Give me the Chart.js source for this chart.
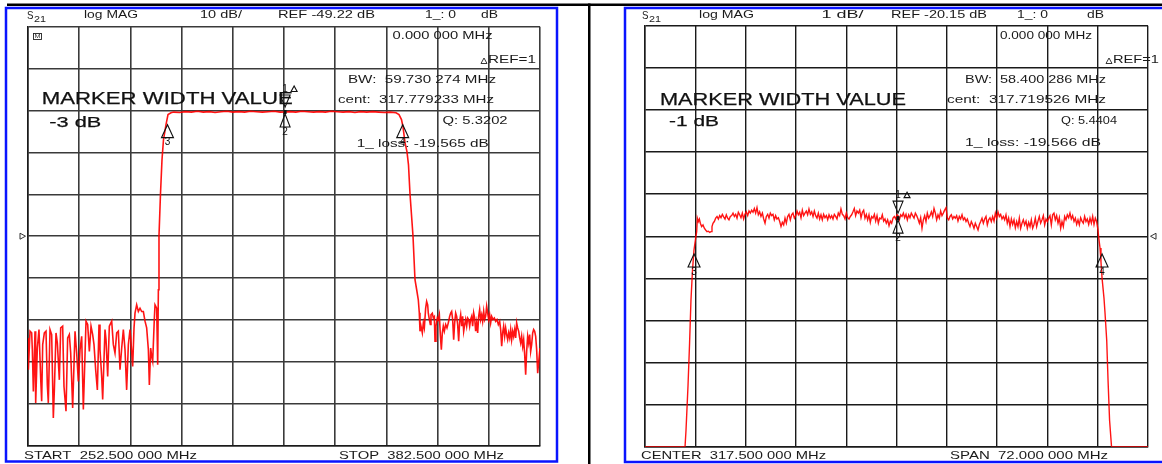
<!DOCTYPE html>
<html>
<head>
<meta charset="utf-8">
<script src="https://cdn.jsdelivr.net/npm/chart.js@4.4.1/dist/chart.umd.min.js"></script>
<style>
  body { margin: 0; background: #fff; }
  #wrap { position: relative; width: 1162px; height: 464px; }
  canvas { position: absolute; left: 0; top: 0; }
</style>
</head>
<body>
<div id="wrap">
  <canvas id="wideChart" width="1162" height="464"></canvas>
  <canvas id="narrowChart" width="1162" height="464"></canvas>
</div>
<script>
// ---- wide sweep: START 252.5 / STOP 382.5 MHz, 10 dB/div, REF -49.22 dB
const wideGridFreq = [252.5, 265.5, 278.5, 291.5, 304.5, 317.5, 330.5, 343.5, 356.5, 369.5, 382.5];
const wideGridLevel = [0.78, -9.22, -19.22, -29.22, -39.22, -49.22, -59.22, -69.22, -79.22, -89.22, -99.22];
const wideRefLevel = -49.22;

const wideLowFreq = [252.5,252.6,253.01,253.43,253.6,253.86,254.28,254.45,254.87,255.29,
  255.72,255.97,256.23,256.65,257.07,257.41,257.66,258.09,258.51,258.93,
  259.19,259.61,259.95,260.46,260.8,261.3,261.64,262.15,262.57,262.99,
  263.34,263.59,263.84,264.44,264.86,265.28,265.71,266.13,266.55,266.81,
  267.23,267.65,268.08,268.5,268.92,269.26,269.68,270.11,270.53,270.78,
  271.21,271.46,272.05,272.31,272.73,273.15,273.75,274.17,274.59,275.02,
  275.44,275.86,276.29,276.71,277.13,277.55,277.98,278.4,278.82,279.08,
  279.42,279.67,280.09,280.52,280.94,281.36,281.79,282.21,282.63,283.06,
  283.31,283.65,283.9,284.16,284.58,284.75,285.17,285.43,285.6];
const wideLowLevel = [-73.5,-81.1,-71.9,-72.3,-76.3,-86.3,-71.9,-89.0,-75.9,-71.5,
  -83.1,-88.6,-75.1,-72.3,-71.9,-84.7,-89.0,-71.5,-72.7,-92.6,
  -85.9,-72.3,-74.7,-83.5,-71.1,-70.7,-85.1,-91.0,-73.5,-72.7,
  -77.1,-83.5,-90.2,-71.9,-77.1,-83.9,-76.3,-73.1,-90.6,-82.7,
  -69.5,-70.3,-76.7,-70.7,-72.7,-75.1,-81.1,-85.9,-70.3,-76.3,
  -82.7,-88.2,-71.5,-73.9,-82.7,-70.7,-69.5,-75.1,-77.1,-72.3,
  -71.9,-81.1,-75.9,-71.5,-76.3,-85.9,-75.1,-71.5,-76.7,-80.3,
  -71.1,-67.6,-65.6,-67.2,-66.4,-67.2,-67.2,-69.5,-71.1,-76.3,
  -84.7,-75.9,-77.9,-79.1,-68.8,-65.6,-66.4,-79.9,-62.0];

const wideBandFreq = [285.76,286.14,286.52,286.9,287.54,288.05,288.81,
  289.5,291.0,292.5,294.0,295.5,297.0,298.5,300.0,301.5,303.0,
  304.5,306.0,307.5,309.0,310.5,312.0,313.5,315.0,316.5,317.78,
  319.0,320.5,322.0,323.5,325.0,326.5,328.0,329.5,331.0,332.5,
  334.0,335.5,337.0,338.5,340.0,341.5,343.0,344.5,
  345.94,346.7,347.33,347.71,348.22,348.73,349.11,349.49,350.25,350.76,351.19,351.6,351.85];
const wideBandLevel = [-49.1,-39.1,-31.0,-26.2,-22.6,-20.2,-19.75,
  -19.6,-19.7,-19.5,-19.6,-19.4,-19.6,-19.5,-19.7,-19.5,-19.4,
  -19.6,-19.5,-19.6,-19.4,-19.5,-19.6,-19.5,-19.4,-19.6,-19.57,
  -19.5,-19.6,-19.4,-19.5,-19.6,-19.5,-19.6,-19.4,-19.5,-19.6,
  -19.5,-19.7,-19.5,-19.6,-19.5,-19.6,-19.7,-19.6,
  -19.75,-20.2,-21.4,-23.1,-26.9,-29.1,-32.2,-39.1,-49.1,-59.6,-62.0,-64.4,-67.5];

const wideHighFreq = [352.03,352.28,352.62,352.88,353.13,353.47,353.72,353.98,354.14,354.4,
  354.65,354.82,355.16,355.41,355.67,355.84,356.09,356.43,356.68,356.94,
  357.19,357.45,357.7,357.95,358.21,358.55,358.88,359.22,359.56,359.82,
  360.07,360.32,360.58,360.83,361.09,361.34,361.59,361.85,362.1,362.36,
  362.61,362.86,363.12,363.37,363.62,363.88,364.13,364.39,364.64,364.89,
  365.15,365.4,365.66,365.91,366.16,366.42,366.67,366.93,367.18,367.43,
  367.69,367.94,368.2,368.45,368.7,368.96,369.21,369.46,369.72,369.97,
  370.23,370.56,370.9,371.24,371.58,371.92,372.26,372.51,372.77,373.02,
  373.27,373.53,373.78,374.04,374.29,374.54,374.8,375.05,375.3,375.56,
  375.81,376.07,376.32,376.57,376.83,377.08,377.34,377.59,377.84,378.1,
  378.35,378.61,378.86,379.11,379.37,379.62,379.88,380.13,380.38,380.64,
  380.89,381.15,381.4,381.65,381.91,382.5];
const wideHighLevel = [-71.9,-70.7,-72.3,-69.9,-71.1,-66.4,-64.8,-65.6,-67.6,-69.1,
  -70.3,-68.0,-67.6,-68.7,-68.4,-74.3,-70.7,-68.7,-69.1,-67.95,
  -72.7,-76.3,-72.3,-70.7,-71.9,-70.3,-71.1,-69.9,-68.35,-67.55,
  -67.15,-69.1,-73.9,-69.9,-67.55,-68.35,-70.3,-74.3,-69.55,-67.95,
  -70.7,-68.35,-71.9,-70.3,-69.1,-70.7,-68.75,-69.1,-70.7,-69.1,
  -68.35,-70.7,-67.55,-68.75,-71.9,-69.9,-72.3,-68.35,-66.75,-69.1,
  -67.95,-69.55,-67.15,-69.1,-68.35,-65.95,-67.55,-69.1,-67.95,-69.9,
  -68.35,-69.1,-68.75,-69.55,-69.1,-70.3,-69.55,-71.5,-75.5,-72.3,
  -70.7,-73.1,-71.1,-72.7,-73.9,-72.3,-73.5,-71.5,-73.9,-71.9,
  -73.1,-71.5,-73.5,-69.9,-71.1,-71.9,-73.5,-74.7,-73.1,-75.5,
  -73.9,-77.5,-82.3,-76.7,-73.1,-74.7,-72.7,-76.7,-75.1,-72.3,
  -71.5,-71.9,-73.1,-76.3,-81.9,-75.9];

// markers 1..4 (1 and 2 sit on the same point)
const wideMarkerFreq = [317.78, 317.78, 287.91, 347.64];
const wideMarkerLevel = [-19.57, -19.57, -22.6, -22.6];

// ---- narrow sweep: CENTER 317.5 / SPAN 72 MHz, 1 dB/div, REF -20.15 dB
const narrowGridFreq = [281.5, 288.7, 295.9, 303.1, 310.3, 317.5, 324.7, 331.9, 339.1, 346.3, 353.5];
const narrowGridLevel = [-15.15, -16.15, -17.15, -18.15, -19.15, -20.15, -21.15, -22.15, -23.15, -24.15, -25.15];
const narrowRefLevel = -20.15;

const narrowLowFreq = [281.5,287.23,287.37,287.66,287.88,288.08,288.3,288.51,288.8,288.9];
const narrowLowLevel = [-25.15,-25.15,-24.76,-23.69,-22.69,-21.67,-20.95,-20.48,-20.14,-20.04];

const narrowBandAFreq = [288.99,289.13,289.28,289.42,289.61,289.80,289.99,290.18,290.38,290.57,
  290.76,290.95,291.09,291.23,291.42,291.62,291.81,292.00,292.19,292.38,
  292.57,292.76,292.95,293.14,293.33,293.52,293.71,293.91,294.10,294.29,
  294.48,294.67,294.86,295.05,295.24,295.43,295.62,295.81,296.00,296.20,
  296.39,296.58,296.77,296.96,297.15,297.34,297.53,297.72,297.91,298.10,
  298.30,298.49,298.68,298.87,299.06,299.25,299.44,299.63,299.82,300.01,
  300.20,300.39,300.59,300.78,300.97,301.16,301.35,301.54,301.73,301.92,
  302.11,302.30,302.49,302.68,302.88,303.07,303.26,303.45,303.64,303.83,
  304.02,304.21,304.40,304.59,304.78,304.97,305.17,305.36,305.55,305.74,
  305.93,306.12,306.31,306.50,306.69,306.88,307.07,307.26,307.46,307.65,
  307.84,308.03,308.22,308.41,308.60,308.79,308.98,309.17,309.36,309.55,
  309.75,309.94,310.13,310.32,310.51,310.70,310.89,311.08,311.27,311.46,
  311.65,311.84,312.04,312.23,312.42,312.61,312.80,312.99,313.18,313.37,
  313.56,313.75,313.94,314.13,314.33,314.52,314.71,314.90,315.09,315.28,
  315.47,315.66,315.85,316.04,316.23,316.43,316.62,316.81,317.00,317.19,
  317.38,317.57];
const narrowBandALevel = [-19.72,-19.80,-19.74,-19.84,-19.92,-19.88,-19.96,-20.00,-20.04,-20.03,
  -20.06,-20.04,-19.92,-19.84,-19.80,-19.72,-19.68,-19.74,-19.66,-19.71,
  -19.63,-19.69,-19.74,-19.64,-19.72,-19.76,-19.68,-19.66,-19.60,-19.68,
  -19.63,-19.72,-19.58,-19.64,-19.71,-19.60,-19.74,-19.63,-19.57,-19.66,
  -19.55,-19.60,-19.53,-19.58,-19.49,-19.60,-19.47,-19.64,-19.57,-19.68,
  -19.60,-19.74,-19.84,-19.68,-19.63,-19.72,-19.60,-19.66,-19.63,-19.76,
  -19.66,-19.74,-19.71,-19.80,-19.92,-19.82,-19.88,-19.72,-19.84,-19.68,
  -19.63,-19.76,-19.64,-19.60,-19.72,-19.66,-19.55,-19.64,-19.58,-19.71,
  -19.53,-19.66,-19.60,-19.55,-19.64,-19.50,-19.63,-19.57,-19.68,-19.55,
  -19.66,-19.72,-19.60,-19.74,-19.64,-19.76,-19.63,-19.71,-19.66,-19.76,
  -19.64,-19.72,-19.66,-19.74,-19.63,-19.68,-19.74,-19.60,-19.66,-19.50,
  -19.63,-19.66,-19.74,-19.60,-19.71,-19.74,-19.68,-19.64,-19.57,-19.49,
  -19.66,-19.55,-19.60,-19.53,-19.71,-19.58,-19.53,-19.72,-19.63,-19.76,
  -19.64,-19.82,-19.68,-19.72,-19.63,-19.79,-19.66,-19.84,-19.72,-19.74,
  -19.64,-19.79,-19.74,-19.84,-19.76,-19.90,-19.79,-19.84,-19.72,-19.68,
  -19.74,-19.64];

const narrowBandBFreq = [317.72,317.91,318.10,318.29,318.48,318.67,318.86,319.05,319.24,319.43,
  319.62,319.81,320.01,320.20,320.39,320.58,320.77,320.96,321.15,321.34,
  321.53,321.72,321.91,322.10,322.30,322.49,322.68,322.87,323.06,323.25,
  323.44,323.63,323.82,324.01,324.20,324.39,324.59,324.78,324.97,325.16,
  325.35,325.54,325.73,325.92,326.11,326.30,326.49,326.68,326.88,327.07,
  327.26,327.45,327.64,327.83,328.02,328.21,328.40,328.59,328.78,328.97,
  329.17,329.36,329.55,329.74,329.93,330.12,330.31,330.50,330.69,330.88,
  331.07,331.26,331.46,331.65,331.84,332.03,332.22,332.41,332.60,332.79,
  332.98,333.17,333.36,333.55,333.75,333.94,334.13,334.32,334.51,334.70,
  334.89,335.08,335.27,335.46,335.65,335.84,336.04,336.23,336.42,336.61,
  336.80,336.99,337.18,337.37,337.56,337.75,337.94,338.13,338.33,338.52,
  338.71,338.90,339.09,339.28,339.47,339.66,339.85,340.04,340.23,340.42,
  340.62,340.81,341.00,341.19,341.38,341.57,341.76,341.95,342.14,342.33,
  342.52,342.71,342.91,343.10,343.29,343.48,343.67,343.86,344.05,344.24,
  344.43,344.62,344.81,345.01,345.20,345.39,345.58,345.77,345.96,346.15,
  346.34];
const narrowBandBLevel = [-19.66,-19.76,-19.64,-19.68,-19.60,-19.71,-19.63,-19.76,-19.64,-19.71,
  -19.60,-19.66,-19.72,-19.60,-19.66,-19.74,-19.84,-19.71,-19.96,-19.76,
  -19.66,-19.80,-19.60,-19.72,-19.66,-19.57,-19.68,-19.49,-19.60,-19.76,
  -19.64,-19.72,-19.55,-19.66,-19.60,-19.53,-19.47,-19.72,-19.76,-19.68,
  -19.64,-19.74,-19.68,-19.72,-19.66,-19.79,-19.68,-19.74,-19.64,-19.76,
  -19.71,-19.80,-19.74,-19.84,-19.92,-19.80,-19.87,-19.96,-19.84,-19.92,
  -20.00,-19.87,-19.80,-19.72,-19.84,-19.74,-19.68,-19.88,-19.76,-19.71,
  -19.80,-19.68,-19.79,-19.60,-19.72,-19.57,-19.68,-19.63,-19.74,-19.68,
  -19.76,-19.64,-19.84,-19.72,-19.92,-19.74,-19.87,-19.76,-19.95,-19.80,
  -19.92,-19.72,-19.96,-19.84,-19.76,-19.88,-19.79,-19.96,-19.82,-19.92,
  -19.76,-19.96,-19.87,-19.72,-19.92,-19.79,-19.68,-19.84,-19.76,-19.66,
  -19.88,-19.74,-19.80,-19.72,-19.66,-19.88,-19.64,-19.60,-19.76,-19.66,
  -19.84,-19.71,-19.96,-19.80,-19.92,-19.68,-19.76,-19.64,-19.71,-19.60,
  -19.74,-19.66,-19.80,-19.72,-19.87,-19.76,-19.88,-19.71,-19.79,-19.84,
  -19.68,-19.80,-19.74,-19.87,-19.72,-19.84,-19.68,-19.87,-19.72,-19.80,
  -20.00];

const narrowHighFreq = [346.42,346.63,346.77,346.92,347.2,347.35,347.59,347.78,348.0,348.28,353.5];
const narrowHighLevel = [-20.14,-20.43,-20.76,-21.14,-21.62,-21.98,-22.62,-23.57,-24.52,-25.15,-25.15];

const narrowMarkerFreq = [317.72, 317.72, 288.52, 346.92];
const narrowMarkerLevel = [-19.72, -19.72, -20.57, -20.57];

// ---- screen texts
const wideHeader = ["log MAG", "10 dB/", "REF -49.22 dB", "1_: 0", "dB"];
const wideReadout = ["0.000 000 MHz", "REF=1", "BW:  59.730 274 MHz", "cent:  317.779233 MHz", "Q: 5.3202", "1_ loss: -19.565 dB"];
const wideFooter = ["START  252.500 000 MHz", "STOP  382.500 000 MHz"];
const narrowHeader = ["log MAG", "1 dB/", "REF -20.15 dB", "1_: 0", "dB"];
const narrowReadout = ["0.000 000 MHz", "REF=1", "BW:  58.400 286 MHz", "cent:  317.719526 MHz", "Q: 5.4404", "1_ loss: -19.566 dB"];
const narrowFooter = ["CENTER  317.500 000 MHz", "SPAN  72.000 000 MHz"];
const bigTitle = "MARKER WIDTH VALUE";
const wideWidthLabel = "-3 dB";
const narrowWidthLabel = "-1 dB";

const FONT = '"Liberation Sans", Arial, sans-serif';

function zip(freqs, levels) {
  const n = Math.min(freqs.length, levels.length);
  if (freqs.length !== levels.length) console.warn("length mismatch", freqs.length, levels.length);
  const out = [];
  for (let i = 0; i < n; i++) out.push({ x: freqs[i], y: levels[i] });
  return out;
}

// text squeezed/stretched to the width it has on the instrument screen
function screenText(ctx, str, x, y, size, width, color, heavy) {
  ctx.save();
  ctx.font = size + "px " + FONT;
  ctx.fillStyle = color || "#1a1a1a";
  ctx.textBaseline = "middle";
  const w = ctx.measureText(str).width;
  ctx.translate(x, y);
  ctx.scale(width / w, 1);
  ctx.fillText(str, 0, 0);
  if (heavy) {
    ctx.strokeStyle = ctx.fillStyle;
    ctx.lineWidth = heavy;
    ctx.strokeText(str, 0, 0);
  }
  ctx.restore();
}

function triangle(ctx, px, apexY, baseY, hw) {
  ctx.beginPath();
  ctx.moveTo(px, apexY);
  ctx.lineTo(px - hw, baseY);
  ctx.lineTo(px + hw, baseY);
  ctx.closePath();
  ctx.stroke();
}

function smallDelta(ctx, x, y) {
  ctx.beginPath();
  ctx.moveTo(x, y - 3);
  ctx.lineTo(x - 3, y + 2.5);
  ctx.lineTo(x + 3, y + 2.5);
  ctx.closePath();
  ctx.stroke();
}

function drawMarkers(chart, freqs, levels) {
  const { ctx } = chart;
  const xs = chart.scales.x, ys = chart.scales.y;
  ctx.save();
  ctx.strokeStyle = "#111";
  ctx.fillStyle = "#111";
  ctx.lineWidth = 1.1;
  ctx.font = "10px " + FONT;
  ctx.textAlign = "center";
  ctx.textBaseline = "middle";
  freqs.forEach((f, i) => {
    const px = xs.getPixelForValue(f);
    const py = ys.getPixelForValue(levels[i]);
    if (i === 0) {
      triangle(ctx, px, py - 5, py - 17, 5);
      ctx.fillRect(px - 1.5, py - 2, 3, 4);
      ctx.fillText("1", px, py - 23);
      smallDelta(ctx, px + 9, py - 23);
    } else if (i === 1) {
      triangle(ctx, px, py + 2, py + 15, 5);
      ctx.fillText("2", px, py + 20);
    } else {
      triangle(ctx, px, py, py + 13, 6);
      ctx.fillText(String(i + 1), px, py + 18);
    }
  });
  ctx.restore();
}

function refArrow(chart, level, side) {
  const { ctx, chartArea } = chart;
  const py = chart.scales.y.getPixelForValue(level);
  ctx.save();
  ctx.strokeStyle = "#333";
  ctx.lineWidth = 1;
  ctx.beginPath();
  if (side === "left") {
    const x0 = chartArea.left - 8;
    ctx.moveTo(x0, py - 3);
    ctx.lineTo(x0, py + 3);
    ctx.lineTo(x0 + 5.5, py);
  } else {
    const x0 = chartArea.right + 8;
    ctx.moveTo(x0, py - 3);
    ctx.lineTo(x0, py + 3);
    ctx.lineTo(x0 - 5.5, py);
  }
  ctx.closePath();
  ctx.stroke();
  ctx.restore();
}

function scaleOptions(gridFreq, gridLevel, gridColor, gridWidth) {
  const common = {
    type: "linear",
    ticks: { display: false },
    grid: { color: gridColor, lineWidth: gridWidth, drawTicks: false },
    border: { display: true, color: "#1a1a1a", width: 1.5 }
  };
  return {
    x: Object.assign({}, common, {
      min: gridFreq[0], max: gridFreq[gridFreq.length - 1],
      afterBuildTicks: (s) => { s.ticks = gridFreq.map((v) => ({ value: v })); }
    }),
    y: Object.assign({}, common, {
      min: gridLevel[gridLevel.length - 1], max: gridLevel[0],
      afterBuildTicks: (s) => { s.ticks = gridLevel.map((v) => ({ value: v })); }
    })
  };
}

// frames, screen texts and markers of the left (wide) screen
const wideScreen = {
  id: "wideScreen",
  beforeDraw(chart) {
    const ctx = chart.ctx;
    ctx.save();
    ctx.fillStyle = "#000";
    ctx.fillRect(7, 3.5, 1155, 2.5);
    ctx.fillRect(588, 3.5, 2.5, 461);
    ctx.strokeStyle = "#0a14ff";
    ctx.lineWidth = 2.5;
    ctx.strokeRect(6, 8, 551, 453.5);
    ctx.strokeRect(625, 8, 560, 454);
    ctx.restore();
  },
  afterDatasetsDraw(chart) {
    const ctx = chart.ctx;
    screenText(ctx, "S", 27, 16, 10.5, 6.5);
    screenText(ctx, "21", 34, 19, 9.5, 12);
    const hx = [[84, 54], [200, 42], [278, 97], [425, 31], [481, 17]];
    wideHeader.forEach((t, i) => screenText(ctx, t, hx[i][0], 15.5, 10.5, hx[i][1]));
    const rd = [[392.6, 36, 100], [488, 60.5, 48], [348, 80.5, 148], [338, 100.5, 156], [442.6, 121, 65], [356.7, 144, 132]];
    wideReadout.forEach((t, i) => screenText(ctx, t, rd[i][0], rd[i][1], 10.5, rd[i][2]));
    ctx.save();
    ctx.strokeStyle = "#222";
    ctx.lineWidth = 0.9;
    smallDelta(ctx, 484, 61);
    ctx.strokeRect(33.5, 33.5, 8, 6);
    ctx.restore();
    screenText(ctx, "M", 34.5, 36.8, 6, 6, "#333");
    screenText(ctx, bigTitle, 41.7, 99.5, 16.5, 251, "#111", 0.25);
    screenText(ctx, wideWidthLabel, 49.3, 122.5, 15.5, 52, "#111", 0.25);
    screenText(ctx, wideFooter[0], 24, 456, 10.5, 173);
    screenText(ctx, wideFooter[1], 339, 456, 10.5, 165);
    drawMarkers(chart, wideMarkerFreq, wideMarkerLevel);
    refArrow(chart, wideRefLevel, "left");
  }
};

const narrowScreen = {
  id: "narrowScreen",
  afterDatasetsDraw(chart) {
    const ctx = chart.ctx;
    screenText(ctx, "S", 642, 16, 10.5, 6.5);
    screenText(ctx, "21", 649, 19, 9.5, 12);
    const hx = [[699, 55], [821.5, 42], [891, 96], [1017, 31], [1087, 17]];
    narrowHeader.forEach((t, i) => screenText(ctx, t, hx[i][0], 15.5, 10.5, hx[i][1]));
    const rd = [[1000, 36, 92], [1113, 60.5, 46], [965, 80.5, 141], [947, 100.5, 159], [1061, 121, 56], [965, 143.5, 136]];
    narrowReadout.forEach((t, i) => screenText(ctx, t, rd[i][0], rd[i][1], 10.5, rd[i][2]));
    ctx.save();
    ctx.strokeStyle = "#222";
    ctx.lineWidth = 0.9;
    smallDelta(ctx, 1109, 61);
    ctx.restore();
    screenText(ctx, bigTitle, 660, 100, 16.5, 246, "#111", 0.25);
    screenText(ctx, narrowWidthLabel, 669, 121.5, 15.5, 50, "#111", 0.25);
    screenText(ctx, narrowFooter[0], 641, 456, 10.5, 185);
    screenText(ctx, narrowFooter[1], 950, 456, 10.5, 158);
    drawMarkers(chart, narrowMarkerFreq, narrowMarkerLevel);
    refArrow(chart, narrowRefLevel, "right");
  }
};

function traceDataset(points, width) {
  return {
    data: points,
    borderColor: "rgba(255, 0, 0, 0.92)",
    borderWidth: width,
    pointRadius: 0,
    tension: 0,
    fill: false
  };
}

new Chart(document.getElementById("wideChart").getContext("2d"), {
  type: "line",
  data: {
    datasets: [
      traceDataset([].concat(zip(wideLowFreq, wideLowLevel), zip(wideBandFreq, wideBandLevel), zip(wideHighFreq, wideHighLevel)), 1.6)
    ]
  },
  options: {
    responsive: false,
    animation: false,
    events: [],
    layout: { padding: { left: 28, top: 26.7, right: 622, bottom: 18.3 } },
    scales: scaleOptions(wideGridFreq, wideGridLevel, "#3a3a3a", 1.6),
    plugins: { legend: { display: false }, tooltip: { enabled: false } }
  },
  plugins: [wideScreen]
});

new Chart(document.getElementById("narrowChart").getContext("2d"), {
  type: "line",
  data: {
    datasets: [
      traceDataset([].concat(zip(narrowLowFreq, narrowLowLevel), zip(narrowBandAFreq, narrowBandALevel),
        zip(narrowBandBFreq, narrowBandBLevel), zip(narrowHighFreq, narrowHighLevel)), 1.4)
    ]
  },
  options: {
    responsive: false,
    animation: false,
    events: [],
    layout: { padding: { left: 645, top: 25.8, right: 14, bottom: 17.3 } },
    scales: scaleOptions(narrowGridFreq, narrowGridLevel, "#1a1a1a", 1.4),
    plugins: { legend: { display: false }, tooltip: { enabled: false } }
  },
  plugins: [narrowScreen]
});
</script>
</body>
</html>
